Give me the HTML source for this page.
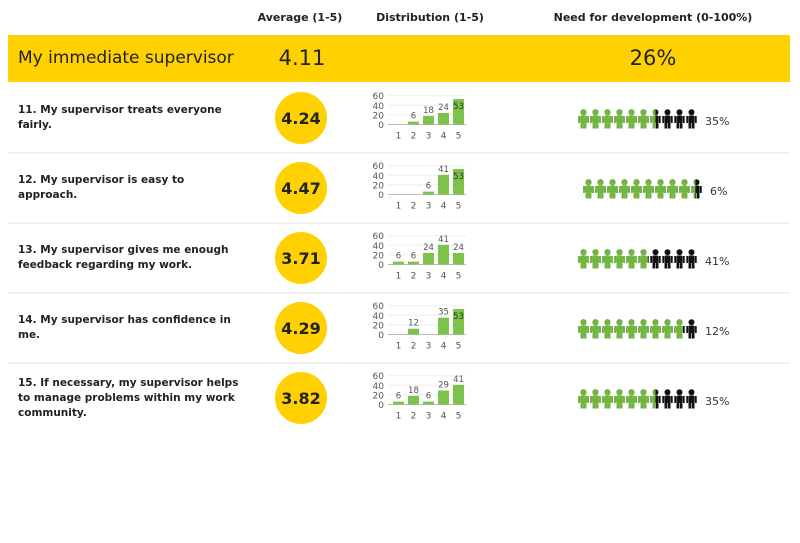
<!DOCTYPE html><html><head><style>
body{margin:0;width:800px;height:539px;background:#fff;overflow:hidden;font-family:"DejaVu Sans","Liberation Sans",sans-serif}
</style></head><body>
<svg width="800" height="539" xmlns="http://www.w3.org/2000/svg" font-family="DejaVu Sans, Liberation Sans, sans-serif">
<defs>
<g id="p"><circle cx="5.5" cy="3.2" r="3"/><rect x="2.3" y="6.5" width="6.4" height="7.5" rx="1.2"/><rect x="0.3" y="7" width="1.7" height="7"/><rect x="9" y="7" width="1.7" height="7"/><rect x="2.5" y="13" width="2.7" height="6.5"/><rect x="5.8" y="13" width="2.7" height="6.5"/></g>
</defs>
<text x="300" y="21" font-size="11" font-weight="bold" text-anchor="middle" fill="#222">Average (1-5)</text>
<text x="430" y="21" font-size="11" font-weight="bold" text-anchor="middle" fill="#222">Distribution (1-5)</text>
<text x="653" y="21" font-size="11" font-weight="bold" text-anchor="middle" fill="#222">Need for development (0-100%)</text>
<rect x="8" y="35" width="782" height="47" fill="#FFD100"/>
<text x="18" y="63" font-size="17" fill="#222">My immediate supervisor</text>
<text x="302" y="65" font-size="21" text-anchor="middle" fill="#222">4.11</text>
<text x="653" y="65" font-size="21" text-anchor="middle" fill="#222">26%</text>
<g id="rows"></g>
</svg>
<script>
const rows=[
[["11. My supervisor treats everyone","fairly."],"4.24",[0,6,18,24,53],35],
[["12. My supervisor is easy to","approach."],"4.47",[0,0,6,41,53],6],
[["13. My supervisor gives me enough","feedback regarding my work."],"3.71",[6,6,24,41,24],41],
[["14. My supervisor has confidence in","me."],"4.29",[0,12,0,35,53],12],
[["15. If necessary, my supervisor helps","to manage problems within my work","community."],"3.82",[6,18,6,29,41],35]];
let s="";
rows.forEach((r,i)=>{
const o=i*70;
if(i<4)s+=`<line x1="8" x2="790" y1="${153+o}" y2="${153+o}" stroke="#e6e6e6"/>`;
const ty=r[0].length==3?113+o-7:113+o;
r[0].forEach((t,j)=>s+=`<text x="18" y="${ty+j*15}" font-size="10.5" font-weight="bold" fill="#222">${t}</text>`);
s+=`<circle cx="301" cy="${118+o}" r="26" fill="#FFD100"/><text x="301" y="${124+o}" font-size="16" font-weight="bold" text-anchor="middle" fill="#222">${r[1]}</text>`;
const base=124.5+o,k=0.48;
[0,20,40,60].forEach(v=>{const y=base-v*k;s+=`<line x1="388" x2="466" y1="${y}" y2="${y}" stroke="${v?'#eee':'#bbb'}"/><text x="384" y="${y+3.5}" font-size="9" text-anchor="end" fill="#555">${v}</text>`});
r[2].forEach((v,j)=>{const x=393+j*15;if(v){const inside=v>45;s+=`<rect x="${x}" y="${base-v*k}" width="11" height="${v*k}" fill="#7dc24b"/><text x="${x+5.5}" y="${base-v*k-3+(inside?13:0)}" font-size="8.5" text-anchor="middle" fill="${inside?'#333':'#555'}">${v}</text>`}
s+=`<text x="${x+5.5}" y="${base+14}" font-size="9" text-anchor="middle" fill="#555">${j+1}</text>`});
const g=10*(1-r[3]/100),x0=r[3]<10?583:578;
for(let j=0;j<10;j++){const x=x0+j*12;
s+=`<use href="#p" x="${x}" y="${109+o}" fill="#111"/>`;
const f=Math.max(0,Math.min(1,g-j));
if(f>0)s+=`<svg x="${x}" y="${109+o}" width="${11*f}" height="20" overflow="hidden"><use href="#p" fill="#6fb83c"/></svg>`;}
s+=`<text x="${x0+127}" y="${125+o}" font-size="11" fill="#333">${r[3]}%</text>`;
});
document.getElementById("rows").innerHTML=s;
</script>
</body></html>
